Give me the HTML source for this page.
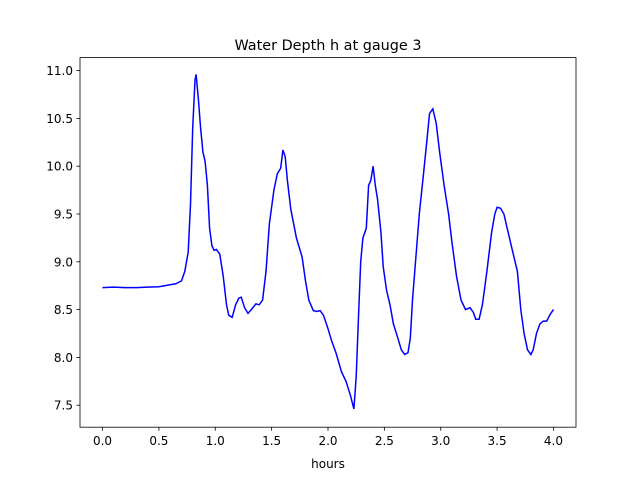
<!DOCTYPE html>
<html><head><meta charset="utf-8"><style>
body{margin:0;background:#fff;}
svg text{font-family:"DejaVu Sans","Liberation Sans",sans-serif;fill:#000;}
</style></head><body>
<svg id="chart" width="640" height="480" xmlns="http://www.w3.org/2000/svg">
<rect width="640" height="480" fill="#fff"/>
<text x="328" y="50" font-size="14.4" text-anchor="middle">Water Depth h at gauge 3</text>
<g id="ticks"></g>
<polyline id="line" fill="none" stroke="#0000ff" stroke-width="1.5"/>
<rect x="80" y="57.6" width="496" height="369.6" fill="none" stroke="#000" stroke-width="0.8"/>
<text x="328" y="468" font-size="12" text-anchor="middle">hours</text>
</svg>
<script>
const times=[0,0.1,0.2,0.3,0.4,0.5,0.6,0.65,0.7,0.73,0.76,0.78,0.8,0.82,0.83,0.85,0.87,0.89,0.91,0.93,0.95,0.97,0.99,1.01,1.04,1.07,1.1,1.12,1.15,1.18,1.21,1.23,1.26,1.29,1.32,1.36,1.39,1.42,1.45,1.48,1.52,1.55,1.58,1.6,1.62,1.64,1.67,1.72,1.77,1.8,1.83,1.87,1.9,1.93,1.96,2.0,2.03,2.07,2.12,2.16,2.2,2.23,2.25,2.27,2.29,2.31,2.34,2.36,2.38,2.4,2.42,2.44,2.47,2.49,2.52,2.55,2.58,2.62,2.65,2.68,2.71,2.73,2.75,2.78,2.81,2.85,2.88,2.9,2.93,2.96,2.99,3.03,3.07,3.1,3.14,3.18,3.22,3.26,3.29,3.31,3.34,3.37,3.41,3.45,3.48,3.5,3.53,3.56,3.59,3.63,3.66,3.68,3.71,3.74,3.77,3.8,3.82,3.85,3.88,3.91,3.94,3.97,4.0];
const depths=[8.73,8.735,8.73,8.73,8.735,8.74,8.76,8.77,8.8,8.9,9.1,9.6,10.4,10.9,10.96,10.7,10.4,10.15,10.05,9.8,9.35,9.17,9.12,9.13,9.08,8.85,8.55,8.44,8.42,8.55,8.62,8.63,8.52,8.46,8.5,8.56,8.55,8.6,8.9,9.4,9.75,9.92,9.98,10.17,10.1,9.85,9.55,9.25,9.05,8.8,8.6,8.49,8.48,8.49,8.44,8.3,8.18,8.05,7.85,7.75,7.6,7.46,7.8,8.4,9.0,9.25,9.35,9.8,9.85,10.0,9.8,9.65,9.3,8.95,8.7,8.55,8.35,8.2,8.08,8.03,8.05,8.2,8.6,9.05,9.5,9.95,10.3,10.55,10.6,10.45,10.15,9.8,9.5,9.2,8.85,8.6,8.5,8.52,8.47,8.4,8.4,8.55,8.9,9.3,9.5,9.57,9.56,9.5,9.35,9.15,9.0,8.9,8.5,8.25,8.08,8.03,8.08,8.25,8.35,8.38,8.38,8.45,8.5];
const xTicks=[0,0.5,1,1.5,2,2.5,3,3.5,4];
const xTickLabels=["0.0","0.5","1.0","1.5","2.0","2.5","3.0","3.5","4.0"];
const yTicks=[7.5,8,8.5,9,9.5,10,10.5,11];
const yTickLabels=["7.5","8.0","8.5","9.0","9.5","10.0","10.5","11.0"];
const X=t=>80+(t+0.2)/4.4*496;
const Y=v=>427.2-(v-7.27)/(11.136-7.27)*369.6;
const NS="http://www.w3.org/2000/svg";
const g=document.getElementById('ticks');
xTicks.forEach((t,i)=>{
 const l=document.createElementNS(NS,'line');
 l.setAttribute('x1',X(t));l.setAttribute('x2',X(t));l.setAttribute('y1',427.2);l.setAttribute('y2',430.7);l.setAttribute('stroke','#000');l.setAttribute('stroke-width','0.8');
 
 
 g.appendChild(l);
 const s=document.createElementNS(NS,'text');
 s.setAttribute('x',X(t));s.setAttribute('y',445);s.setAttribute('font-size','12');s.setAttribute('text-anchor','middle');
 s.textContent=xTickLabels[i];
 
 
 g.appendChild(s);
});
yTicks.forEach((v,i)=>{
 const l=document.createElementNS(NS,'line');
 l.setAttribute('x1',76.5);l.setAttribute('x2',80);l.setAttribute('y1',Y(v));l.setAttribute('y2',Y(v));l.setAttribute('stroke','#000');l.setAttribute('stroke-width','0.8');
 
 
 g.appendChild(l);
 const s=document.createElementNS(NS,'text');
 s.setAttribute('x',73);s.setAttribute('y',Y(v)+4.5);s.setAttribute('font-size','12');s.setAttribute('text-anchor','end');
 s.textContent=yTickLabels[i];
 
 
 g.appendChild(s);
});
document.getElementById('line').setAttribute('points',times.map((t,i)=>X(t).toFixed(1)+','+Y(depths[i]).toFixed(1)).join(' '));
</script>
</body></html>
